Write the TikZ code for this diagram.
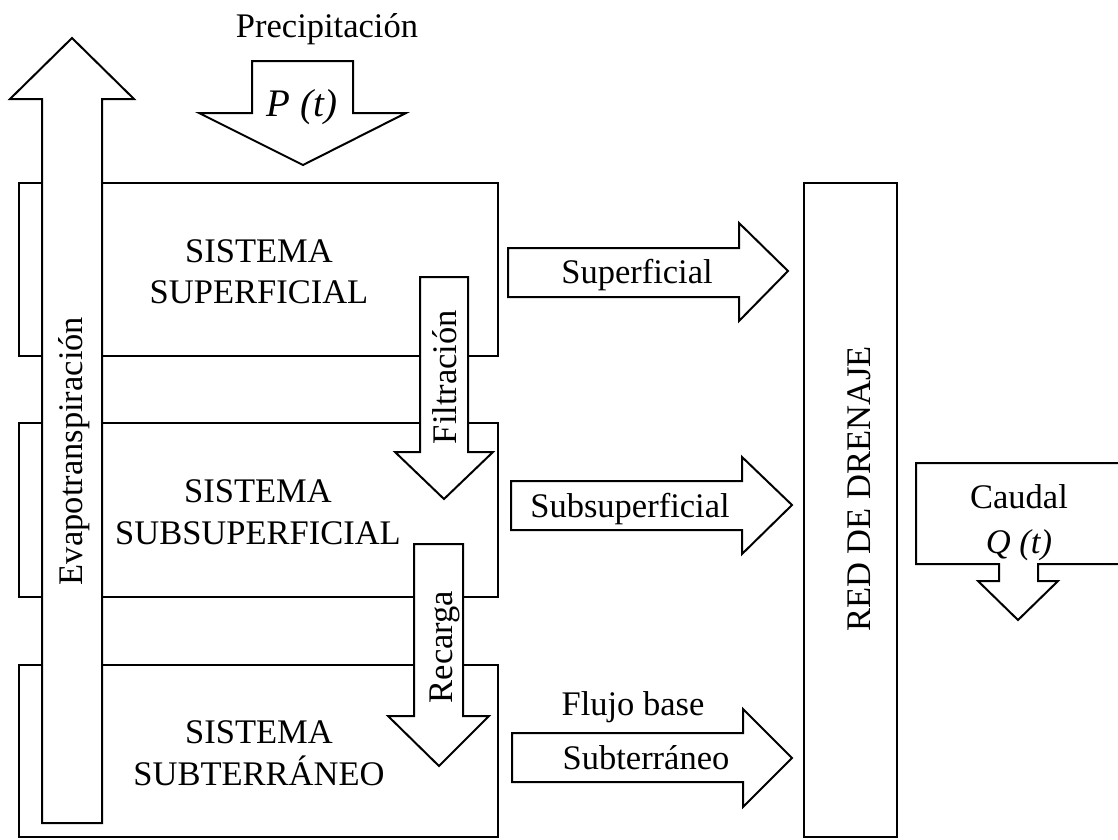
\documentclass[tikz,border=0pt]{standalone}
\usepackage{fontspec}
\setmainfont{Liberation Serif}
\begin{document}
\begin{tikzpicture}[x=1pt,y=-1pt,
  outline/.style={draw=black,line width=2pt,fill=white},
  lbl/.style={inner sep=0pt,anchor=base,font=\fontsize{34.5}{40}\selectfont},
  lblit/.style={lbl,font=\fontsize{34.5}{40}\selectfont\itshape},
  vlbl/.style={lbl,rotate=90}]
\useasboundingbox (0,0) rectangle (1118,839);
\clip (0,0) rectangle (1118,839);

% subsystem boxes
\draw[outline] (19,183) rectangle (498,356);
\draw[outline] (19,423) rectangle (498,597);
\draw[outline] (19,665) rectangle (498,837);
% drainage network
\draw[outline] (804,183) rectangle (897,837);

% evapotranspiration (up)
\draw[outline] (42,823) -- (42,99) -- (10,99) -- (72,38) -- (134,99) -- (102,99) -- (102,823) -- cycle;
% precipitation (down)
\draw[outline] (252,61) -- (353,61) -- (353,113) -- (406,113) -- (303,165) -- (199,113) -- (252,113) -- cycle;
% infiltration (down)
\draw[outline] (420,277) -- (468,277) -- (468,452) -- (493,452) -- (444,499) -- (395,452) -- (420,452) -- cycle;
% recharge (down)
\draw[outline] (414,544) -- (463,544) -- (463,716) -- (489,716) -- (439,766) -- (388,716) -- (414,716) -- cycle;
% lateral flows (right)
\draw[outline] (508,248) -- (739,248) -- (739,223) -- (788,271) -- (739,321) -- (739,297) -- (508,297) -- cycle;
\draw[outline] (511,481) -- (742,481) -- (742,457) -- (792,505) -- (742,554) -- (742,530) -- (511,530) -- cycle;
\draw[outline] (512,733) -- (743,733) -- (743,709) -- (792,758) -- (743,807) -- (743,782) -- (512,782) -- cycle;
% outflow
\draw[outline] (1125,463) -- (916,463) -- (916,564) -- (999,564) -- (999,581) -- (978,581) -- (1018,620)
  -- (1058,581) -- (1038,581) -- (1038,564) -- (1125,564);

% labels
\node[lbl] (prec) at (327,37) {Precipitación};
\node[lblit,font=\fontsize{39}{44}\selectfont\itshape] (pt) at (302,116) {P (t)};
\node[lbl] (s1a) at (259,262) {SISTEMA};
\node[lbl] (s1b) at (259,303) {SUPERFICIAL};
\node[lbl] (s2a) at (258,502) {SISTEMA};
\node[lbl] (s2b) at (258,544) {SUBSUPERFICIAL};
\node[lbl] (s3a) at (259,743) {SISTEMA};
\node[lbl] (s3b) at (259,785) {SUBTERRÁNEO};
\node[lbl] (fsup) at (637,283) {Superficial};
\node[lbl] (fsub) at (630,517) {Subsuperficial};
\node[lbl] (fb1) at (633,715) {Flujo base};
\node[lbl] (fb2) at (646,769) {Subterráneo};
\node[lbl] (cau) at (1019,508) {Caudal};
\node[lblit] (qt) at (1019,553) {Q (t)};
\node[vlbl] (evap) at (82,451) {Evapotranspiración};
\node[vlbl] (filt) at (456,377) {Filtración};
\node[vlbl] (rec) at (452,647) {Recarga};
\node[vlbl] (red) at (870,489) {RED DE DRENAJE};
\end{tikzpicture}
\end{document}
